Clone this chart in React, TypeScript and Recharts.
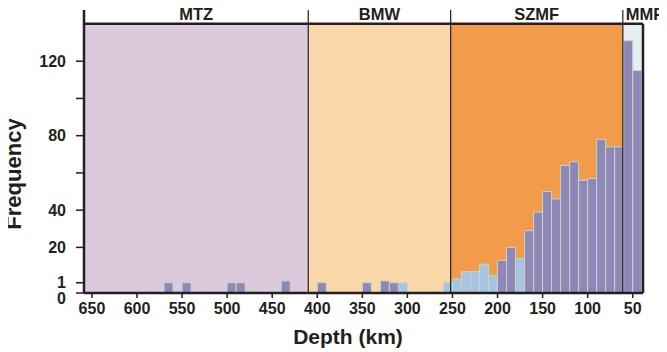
import React from "react";
import {
  ComposedChart,
  Bar,
  XAxis,
  YAxis,
  ReferenceArea,
  ReferenceLine,
} from "recharts";

// 10 km depth bins (bin centres, km) that hold at least one event
const depthBins = [
  565, 545, 495, 485, 435, 395, 345, 325, 315, 305, 255, 245, 235, 225, 215,
  205, 195, 185, 175, 165, 155, 145, 135, 125, 115, 105, 95, 85, 75, 65, 55, 45,
];
const purpleCounts = [
  1, 1, 1, 1, 2, 1, 1, 2, 1, 0, 0, 0, 0, 0, 0, 0, 13, 20, 0, 29, 39, 50, 46, 64,
  66, 56, 57, 78, 74, 74, 131, 115,
];
const blueCounts = [
  0, 0, 0, 0, 0, 0, 0, 0, 0, 1, 1, 3, 7, 7, 11, 5, 0, 0, 14, 0, 0, 0, 0, 0, 0,
  0, 0, 0, 0, 0, 0, 0,
];

const regionNames = ["MTZ", "BMW", "SZMF", "MMF"];
const regionEdges = [658.8, 410, 252, 61, 38.6];
const regionColors = ["#dccadc", "#f9d7a8", "#f29b4b", "#e4eef2"];

const xTicks = [650, 600, 550, 500, 450, 400, 350, 300, 250, 200, 150, 100, 50];
const yTicks = [0, 1, 20, 40, 60, 80, 100, 120];
const yHidden = [60, 100];

// the axis is squeezed below 20: 0 sits a little below 1
const OFFSET = 4.5;
const lift = (v: number) => (v > 0 ? v + OFFSET : 0);
const Y_MAX = 152;
const FRAME_TOP = 144.6;

const chartData = depthBins.map((d, i) => ({
  depth: d,
  purple: lift(purpleCounts[i]),
  blue: lift(blueCounts[i]),
}));

const ink = "#231f20";
const font = "'Liberation Sans', Arial, sans-serif";

const YTick = (props: any) => {
  const { x, y, payload } = props;
  const raw = yTicks.find((t) => Math.abs(lift(t) - payload.value) < 0.01) ?? 0;
  if (yHidden.includes(raw)) return null;
  return (
    <text
      x={x}
      y={y + (raw === 0 ? 5 : 0)}
      dy="0.355em"
      textAnchor="end"
      fill={ink}
      fontSize={16}
      fontWeight={700}
      fontFamily={font}
    >
      {raw}
    </text>
  );
};

const regionTitle = (name: string, i: number) => (props: any) => {
  const vb = props.viewBox;
  const left = i === regionNames.length - 1;
  return (
    <text
      x={left ? vb.x + 3 : vb.x + vb.width / 2}
      y={20}
      textAnchor={left ? "start" : "middle"}
      fill={ink}
      fontSize={16.5}
      fontWeight={700}
      fontFamily={font}
    >
      {name}
    </text>
  );
};

const App = () => {
  return (
    <div style={{ width: 667, height: 352, margin: "-8px 0 0 -8px" }}>
      <ComposedChart
        width={667}
        height={352}
        data={chartData}
        margin={{ top: 10, right: 24, left: 8, bottom: 0 }}
        barCategoryGap={0}
      >
        {regionNames.map((name, i) => (
          <ReferenceArea
            key={name}
            x1={regionEdges[i]}
            x2={regionEdges[i + 1]}
            y1={0}
            y2={FRAME_TOP}
            fill={regionColors[i]}
            fillOpacity={1}
            stroke="none"
          />
        ))}
        {regionNames.map((name, i) => (
          <ReferenceArea
            key={name + "-title"}
            x1={regionEdges[i]}
            x2={regionEdges[i + 1]}
            y1={FRAME_TOP}
            y2={Y_MAX}
            fill="none"
            stroke="none"
            label={regionTitle(name, i)}
          />
        ))}
        <XAxis
          dataKey="depth"
          type="number"
          domain={[38.6, 658.8]}
          reversed
          allowDataOverflow
          ticks={xTicks}
          interval={0}
          height={59}
          tickSize={5}
          tickMargin={5}
          axisLine={{ stroke: ink, strokeWidth: 2.5 }}
          tickLine={{ stroke: ink, strokeWidth: 1.5 }}
          tick={{ fill: ink, fontSize: 16, fontWeight: 700, fontFamily: font }}
          label={{
            content: () => (
              <text
                x={348}
                y={344}
                textAnchor="middle"
                fill={ink}
                fontSize={21}
                fontWeight={700}
                fontFamily={font}
              >
                Depth (km)
              </text>
            ),
          }}
        />
        <YAxis
          type="number"
          domain={[0, Y_MAX]}
          allowDataOverflow
          ticks={yTicks.map(lift)}
          interval={0}
          width={76}
          tickSize={8}
          tickMargin={10}
          axisLine={{ stroke: ink, strokeWidth: 2.5 }}
          tickLine={{ stroke: ink, strokeWidth: 1.5 }}
          tick={<YTick />}
          label={{
            content: () => (
              <text
                x={21}
                y={174}
                transform="rotate(-90 21 174)"
                textAnchor="middle"
                fill={ink}
                fontSize={22}
                fontWeight={700}
                fontFamily={font}
              >
                Frequency
              </text>
            ),
          }}
        />
        <Bar
          dataKey="blue"
          stackId="d"
          fill="#a9c4e0"
          stroke="#c4d6c4"
          strokeWidth={1}
          isAnimationActive={false}
        />
        <Bar
          dataKey="purple"
          stackId="d"
          fill="#8e87b7"
          stroke="#c4d6c4"
          strokeWidth={1}
          isAnimationActive={false}
        />
        <ReferenceLine y={FRAME_TOP} stroke={ink} strokeWidth={2.5} />
        {regionEdges.slice(1, -1).map((e) => (
          <ReferenceLine key={e} x={e} stroke={ink} strokeWidth={1.2} />
        ))}
        <ReferenceLine
          segment={[
            { x: 38.6, y: 0 },
            { x: 38.6, y: FRAME_TOP },
          ]}
          stroke={ink}
          strokeWidth={2.5}
        />
      </ComposedChart>
    </div>
  );
};

export default App;
